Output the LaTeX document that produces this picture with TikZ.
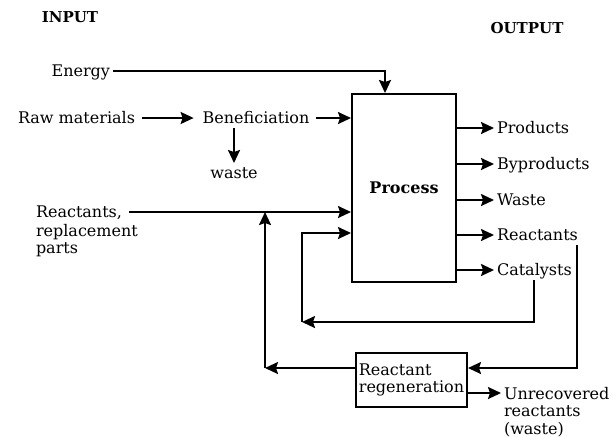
\documentclass[tikz,border=0pt]{standalone}
\usepackage{fontspec}
\setmainfont{DejaVu Serif}
\usepackage{tikz}
\usetikzlibrary{arrows.meta,positioning}

\begin{document}
\begin{tikzpicture}[
	x=0.5pt, y=-0.5pt,
	lbl/.style={
		inner sep=1pt, font=\fontsize{8}{8.75}\selectfont,
		text height=6pt, text depth=1pt
	},
	multi/.style={
		inner sep=1pt, align=left, font=\fontsize{8}{8.75}\selectfont
	},
	head/.style={
		inner sep=1pt, font=\bfseries\fontsize{7.5}{9}\selectfont
	},
	box/.style={
		draw, line width=1pt, inner sep=1pt
	},
	every path/.style={line width=1pt},
	>={Stealth[length=6.5pt,width=6pt,inset=1pt]}
]
\useasboundingbox (0,0) rectangle (613,436);

% headings
\node[head] (inp) at (70,17) {INPUT};
\node[head] (outp) at (527,28) {OUTPUT};

% the process
\node[box, minimum width=52pt, minimum height=94pt] (proc) at (404,188) {};
\node[head, font=\bfseries\fontsize{8}{9}\selectfont] (ptxt) at (proc.center) {Process};

% inputs
\node[lbl, anchor=east] (energy) at (113,71) {Energy};
\node[lbl, anchor=east] (raw) at (138,118) {Raw materials};
\node[lbl] (benef) at (256,118) {Beneficiation};
\node[lbl] (wst) at (234,173) {waste};
\node[lbl, anchor=west] (reac) at (33,212) {Reactants,};
\node[multi, anchor=north west] (reacb) at (33,221) {replacement\\parts};

\draw[->] (energy.east) -| ([xshift=-9.5pt]proc.north);
\draw[->, shorten <=2pt, shorten >=3pt] (raw) -- (benef);
\draw[->, shorten <=2pt] (benef) -- (proc.west |- benef);
\draw[->] (benef.south -| wst.north) -- (wst.north);
\draw[->, shorten <=2pt] (reac.east) -- (proc.west |- reac.east);

% outputs
\foreach \name/\txt/\y in {prod/Products/128, byp/Byproducts/164,
	wout/Waste/200, reo/Reactants/235, cat/Catalysts/270} {
	\node[lbl, anchor=west] (\name) at (494,\y) {\txt};
	\draw[->] (proc.east |- \name.west) -- (\name.west);
}

% regeneration
\node[box, multi, minimum width=55.5pt, minimum height=27pt] (regen) at (411.5,380) {Reactant\\regeneration};
\node[multi, anchor=north west] (unrec) at (501,384) {Unrecovered\\reactants\\(waste)};
\coordinate (catl) at (302,322);
\coordinate (regl) at (265,368);

\draw[->] (cat.south) |- (catl);
\draw[->] (catl) |- ([yshift=-22.5pt]proc.west);
\draw[->] ([xshift=-2pt]reo.south east) |- ([yshift=6pt]regen.east);
\draw[->] ([yshift=6pt]regen.west) -- (regl);
\draw[->] (regl) -- (regl |- reac.east);
\draw[->] ([yshift=-6.5pt]regen.east) -- ([yshift=-6.5pt]regen.east -| unrec.west);
\end{tikzpicture}
\end{document}
